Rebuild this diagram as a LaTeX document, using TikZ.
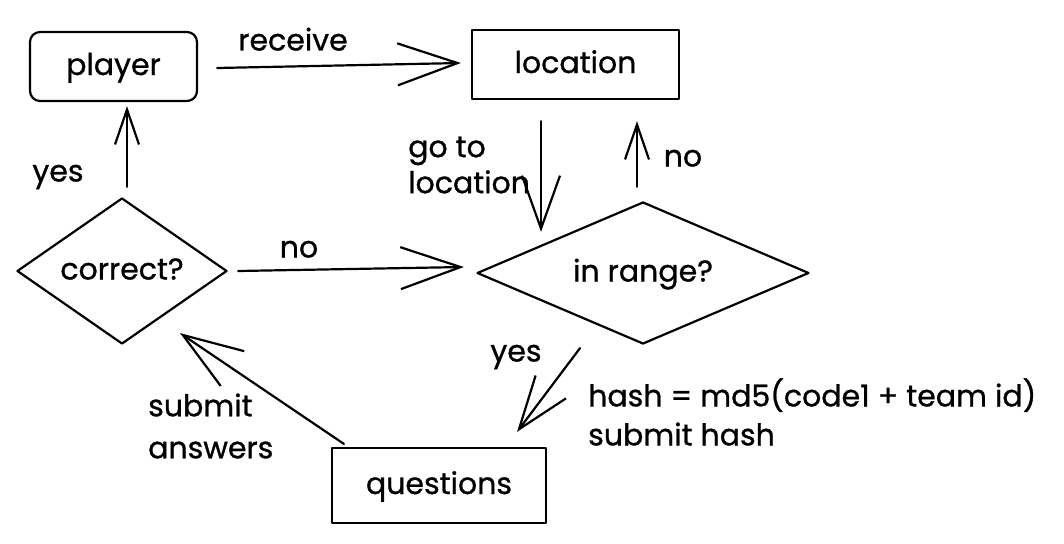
\documentclass[tikz,border=0pt]{standalone}
\usepackage{fontspec}
\setmainfont{Poppins}[UprightFeatures={FakeBold=0.9}]
\usetikzlibrary{arrows.meta,shapes.geometric,calc}
\begin{document}
\begin{tikzpicture}[x=1pt,y=-1pt,
  sk/.style={draw=black,line width=2.2pt,line join=round,line cap=round,inner sep=0pt},
  lbl/.style={font=\fontsize{30}{38}\selectfont,inner sep=0pt},
  fixed/.style={text height=22pt,text depth=5pt},
  conn/.style={draw=black,line width=2.2pt,line cap=round,line join=round},
  bigtip/.style={-{Straight Barb[length=60pt,width=42pt]}},
  midtip/.style={-{Straight Barb[length=53pt,width=38pt]}},
  smalltip/.style={-{Straight Barb[length=35pt,width=24pt]}},
]
\fill[white] (0,0) rectangle (1064,543);
\useasboundingbox (0,0) rectangle (1064,543);

% nodes
\node[sk,lbl,fixed,rounded corners=10pt,minimum width=167pt,minimum height=69pt] (player) at (113.5,66.5) {player};
\node[sk,lbl,fixed,rectangle,minimum width=207pt,minimum height=69pt] (location) at (575.5,64.5) {location};
\node[sk,lbl,fixed,diamond,aspect=1.44,minimum width=210pt,minimum height=146pt] (correct) at (122,271) {correct?};
\node[sk,lbl,fixed,diamond,aspect=2.34,minimum width=332pt,minimum height=142pt] (inrange) at (643,273) {in range?};
\node[sk,lbl,fixed,rectangle,minimum width=214pt,minimum height=75pt] (questions) at (439,485.5) {questions};

% connectors
\draw[conn,bigtip] ($(player.east)+(19,1.5)$) -- ($(location.west)+(-10,-1.5)$);
\draw[conn,midtip] ($(location.south)+(-34.5,21)$) -- ($(inrange.north)+(-102,31)$);
\draw[conn,smalltip] ($(inrange.north)+(-6,-14)$) -- ($(location.south)+(61.5,21)$);
\draw[conn,bigtip] ($(correct.east)+(10,0)$) -- ($(inrange.west)+(-12,-6)$);
\draw[conn,smalltip] ($(correct.north)+(5,-10)$) -- ($(player.south)+(13.5,4)$);
\draw[conn,midtip] ($(inrange.south)+(-63,3)$) -- ($(questions.north)+(78,-15)$);
\draw[conn,bigtip] ($(questions.north west)+(13,-3)$) -- ($(correct.south)+(58,-12)$);

% labels
\node[lbl,fixed] (lreceive) at (293,42) {receive};
\node[lbl,align=left,anchor=west,font=\fontsize{30}{36}\selectfont] (lgoto) at (408,165) {go to\\location};
\node[lbl,fixed] (lno1) at (683,158) {no};
\node[lbl,fixed] (lyes1) at (58,173) {yes};
\node[lbl,fixed] (lno2) at (299,249) {no};
\node[lbl,fixed] (lyes2) at (516,353) {yes};
\node[lbl,align=left,anchor=west,font=\fontsize{30}{39}\selectfont] (lhash) at (588,412) {hash = md5(code1 + team id)\\submit hash};
\node[lbl,align=left,anchor=west,font=\fontsize{30}{42}\selectfont] (lsubmit) at (148,426) {submit\\answers};
\end{tikzpicture}
\end{document}
